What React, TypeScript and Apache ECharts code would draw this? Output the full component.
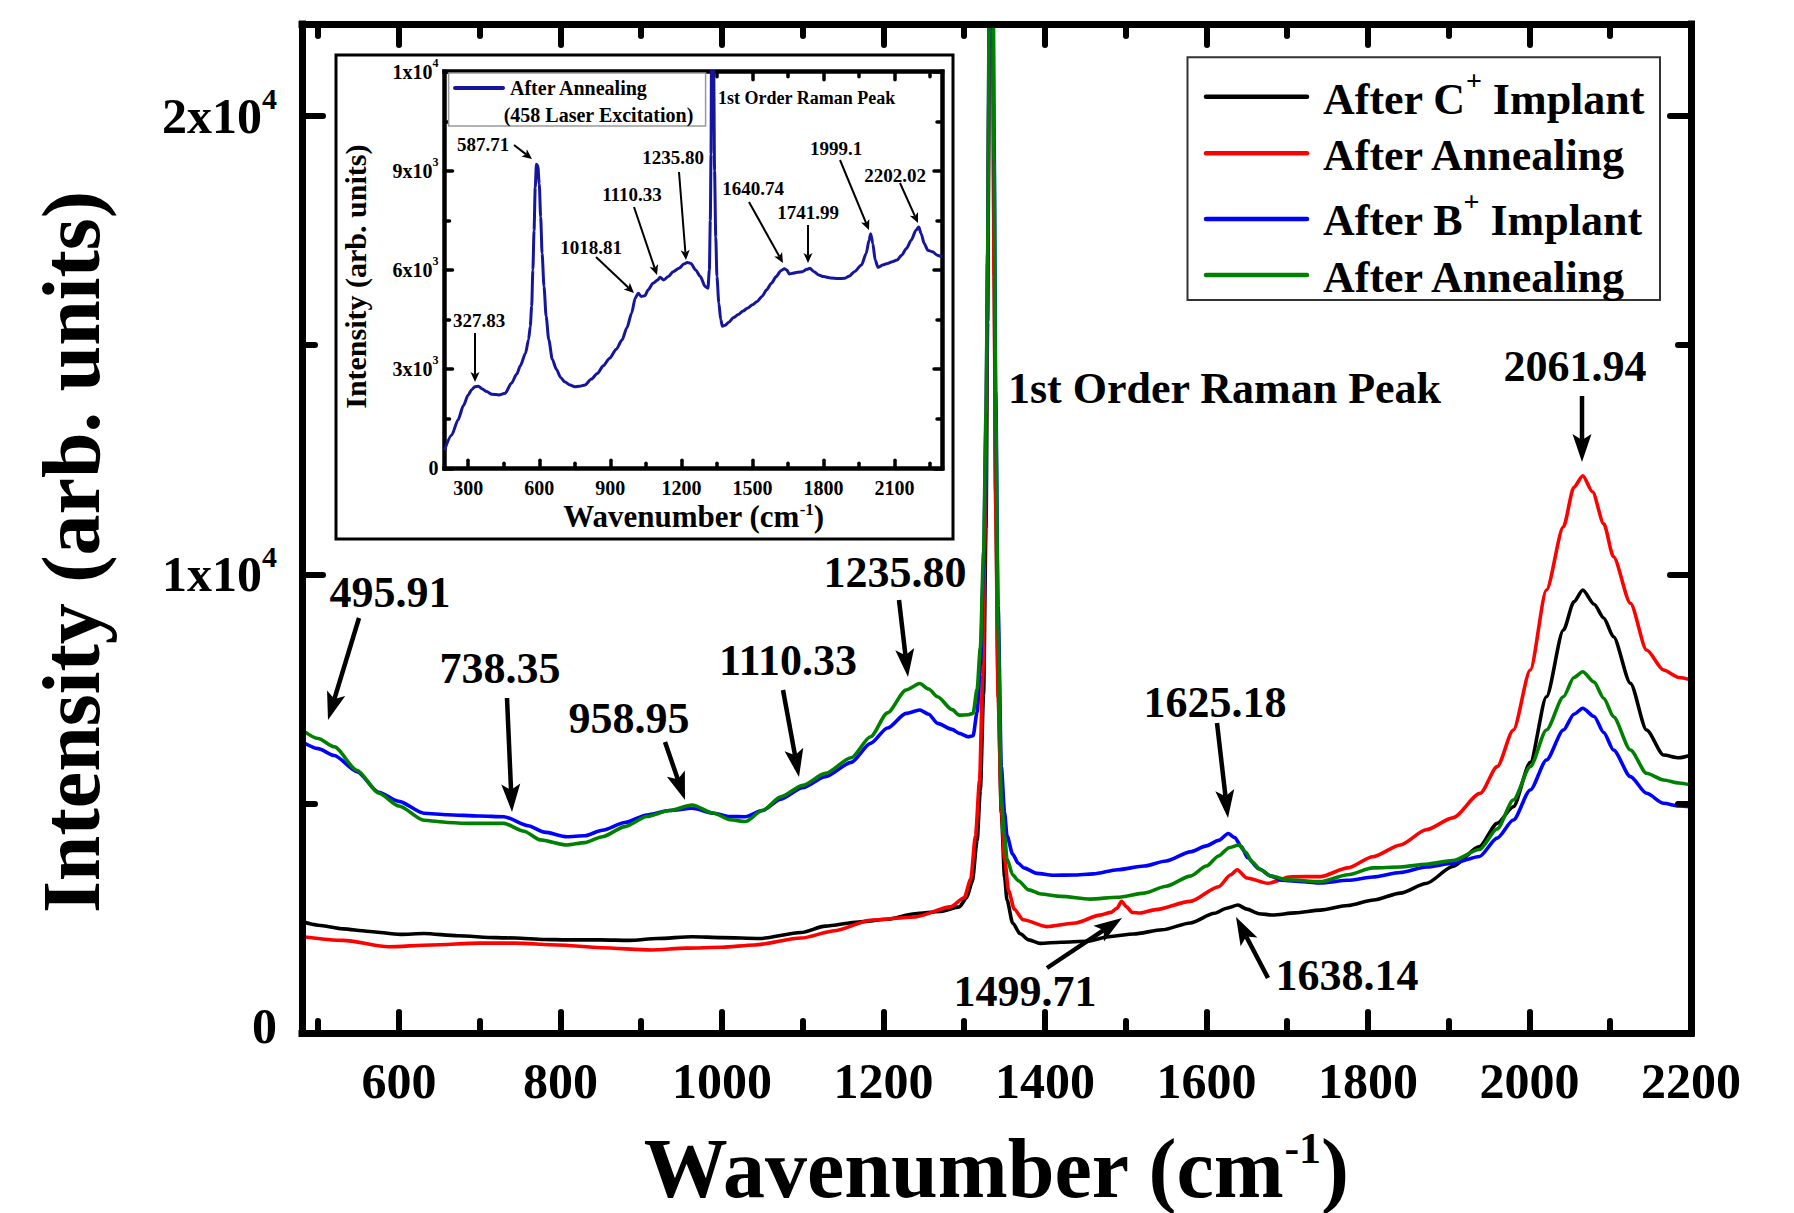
import React, { useEffect, useRef } from 'react';
import * as echarts from 'echarts';

const FONT = "'Liberation Serif', 'Times New Roman', Times, serif";

// ---------- axes / ticks ----------
const mainXRange = [480, 2200];
const mainYRange = [0, 22000];
const mainXMajor = [600, 800, 1000, 1200, 1400, 1600, 1800, 2000, 2200];
const mainXMinor = [500, 700, 900, 1100, 1300, 1500, 1700, 1900, 2100];
const mainYMajor = [0, 10000, 20000];
const mainYMinor = [5000, 15000];
const mainYTickLabels = ['0', '1x10^4', '2x10^4'];

const insetXRange = [200, 2300];
const insetYRange = [0, 12000];
const insetXMajor = [300, 600, 900, 1200, 1500, 1800, 2100];
const insetXMinor = [450, 750, 1050, 1350, 1650, 1950, 2250];
const insetYMajor = [0, 3000, 6000, 9000, 12000];
const insetYMinor = [1500, 4500, 7500, 10500];
const insetYTickLabels = ['0', '3x10^3', '6x10^3', '9x10^3', '1x10^4'];

// ---------- series ----------
const seriesNames = ['After C+ Implant', 'After Annealing', 'After B+ Implant', 'After Annealing'];
const seriesColors = ['#000000', '#ff0000', '#0000ff', '#008000'];

const afterCImplant: number[][] = [
  [480, 2430], [500, 2350], [531, 2270], [560, 2220], [602, 2150], [631, 2170], [673, 2120], [720, 2080],
  [744, 2070], [780, 2040], [808, 2030], [850, 2030], [885, 2020], [920, 2060], [963, 2100], [1000, 2080],
  [1047, 2060], [1098, 2190], [1128, 2330], [1169, 2420], [1205, 2480], [1239, 2600], [1270, 2650],
  [1294, 2750], [1303, 2950], [1310, 3300], [1316, 4200], [1320, 5300], [1324, 7400], [1327, 11000],
  [1329, 15500], [1331, 21500], [1333, 28500], [1335, 24500], [1337, 17000], [1339, 11800], [1342, 7600],
  [1346, 4800], [1350, 3400], [1353, 2900], [1360, 2400], [1369, 2170], [1380, 2030], [1394, 1955],
  [1420, 1980], [1452, 2000], [1479, 2100], [1510, 2160], [1545, 2250], [1580, 2400], [1610, 2610],
  [1625, 2720], [1639, 2790], [1650, 2700], [1665, 2600], [1682, 2573], [1710, 2620], [1741, 2680],
  [1775, 2780], [1807, 2900], [1840, 3050], [1872, 3260], [1905, 3630], [1938, 4063], [1960, 4571],
  [1980, 4934], [2001, 5900], [2021, 7333], [2042, 8787], [2055, 9400], [2066, 9660], [2080, 9350],
  [2092, 9050], [2104, 8640], [2125, 7624], [2145, 6606], [2166, 6061], [2185, 6000], [2200, 6061],
];

const afterCAnnealing: number[][] = [
  [480, 2100], [531, 2020], [587, 1880], [640, 1920], [700, 1960], [744, 1960], [797, 1920], [850, 1860],
  [913, 1810], [956, 1850], [1000, 1870], [1040, 1920], [1098, 2070], [1140, 2230], [1184, 2460],
  [1239, 2530], [1283, 2750], [1300, 2950], [1308, 3350], [1314, 4300], [1319, 5500], [1323, 7800],
  [1326, 11000], [1329, 16000], [1331, 21500], [1333, 28500], [1335, 24000], [1337, 16500], [1339, 11500],
  [1342, 7300], [1346, 4900], [1350, 3800], [1355, 3100], [1362, 2700], [1373, 2470], [1402, 2320],
  [1438, 2400], [1468, 2570], [1482, 2630], [1489, 2720], [1495, 2870], [1501, 2750], [1508, 2630],
  [1518, 2616], [1537, 2690], [1580, 2870], [1615, 3190], [1630, 3450], [1638, 3560], [1650, 3380],
  [1676, 3264], [1704, 3408], [1741, 3410], [1775, 3600], [1806, 3844], [1840, 4100], [1872, 4430],
  [1905, 4690], [1939, 5226], [1960, 5807], [1980, 6606], [2001, 7915], [2021, 9659], [2042, 11039],
  [2055, 11900], [2066, 12150], [2078, 11800], [2092, 11100], [2104, 10385], [2125, 9369], [2145, 8350],
  [2166, 7915], [2185, 7750], [2200, 7697],
];

const afterBImplant: number[][] = [
  [480, 6350], [500, 6200], [520, 6050], [548, 5700], [575, 5250], [600, 5050], [631, 4790], [660, 4760],
  [700, 4730], [730, 4716], [760, 4520], [780, 4380], [808, 4280], [830, 4300], [852, 4420], [880, 4590],
  [907, 4753], [935, 4850], [963, 4900], [990, 4790], [1010, 4720], [1029, 4716], [1050, 4850],
  [1073, 5100], [1100, 5350], [1128, 5588], [1160, 5900], [1184, 6315], [1205, 6650], [1228, 6970],
  [1245, 7042], [1256, 6950], [1267, 6751], [1285, 6620], [1294, 6533], [1305, 6460], [1311, 6480],
  [1316, 7000], [1320, 8000], [1324, 10200], [1327, 13200], [1329, 16800], [1331, 22000], [1333, 28500],
  [1335, 25500], [1337, 19500], [1339, 14000], [1342, 9300], [1346, 5800], [1350, 4800], [1353, 4300],
  [1360, 3900], [1367, 3700], [1374, 3600], [1390, 3480], [1410, 3440], [1435, 3445], [1460, 3470],
  [1490, 3560], [1523, 3640], [1550, 3750], [1580, 3950], [1600, 4080], [1615, 4200], [1627, 4350],
  [1635, 4260], [1643, 4070], [1651, 3820], [1665, 3580], [1680, 3420], [1693, 3330], [1720, 3300],
  [1741, 3270], [1775, 3330], [1806, 3400], [1840, 3500], [1872, 3620], [1905, 3700], [1938, 3850],
  [1960, 4250], [1980, 4644], [2001, 5298], [2021, 5952], [2042, 6606], [2055, 6950], [2066, 7080],
  [2080, 6900], [2092, 6550], [2104, 6170], [2125, 5589], [2145, 5226], [2166, 5008], [2185, 4950],
  [2200, 4934],
];

const afterBAnnealing: number[][] = [
  [480, 6610], [500, 6420], [520, 6240], [548, 5730], [575, 5230], [600, 4950], [631, 4640], [660, 4590],
  [686, 4570], [730, 4570], [755, 4400], [775, 4210], [808, 4100], [830, 4150], [852, 4280], [880, 4500],
  [907, 4720], [935, 4850], [963, 4970], [990, 4790], [1010, 4650], [1029, 4610], [1050, 4850],
  [1073, 5150], [1100, 5400], [1128, 5660], [1160, 6000], [1184, 6460], [1205, 6980], [1228, 7480],
  [1245, 7620], [1256, 7500], [1267, 7330], [1285, 7050], [1294, 6930], [1305, 6940], [1311, 6970],
  [1316, 7500], [1320, 8400], [1324, 10500], [1327, 13500], [1329, 17000], [1331, 22500], [1333, 29000],
  [1335, 25500], [1337, 19000], [1339, 13500], [1342, 8800], [1346, 5100], [1350, 4300], [1353, 3800],
  [1360, 3450], [1367, 3320], [1380, 3120], [1395, 3030], [1420, 2980], [1456, 2920], [1490, 2960],
  [1523, 3050], [1550, 3200], [1580, 3420], [1600, 3640], [1615, 3860], [1628, 4040], [1640, 4100],
  [1648, 3950], [1657, 3720], [1667, 3560], [1680, 3420], [1700, 3340], [1741, 3300], [1775, 3450],
  [1806, 3600], [1840, 3620], [1872, 3680], [1905, 3760], [1938, 4000], [1960, 4450], [1980, 5080],
  [2001, 5807], [2021, 6606], [2042, 7333], [2055, 7750], [2066, 7878], [2080, 7650], [2092, 7300],
  [2104, 6897], [2125, 6170], [2145, 5662], [2166, 5516], [2185, 5450], [2200, 5407],
];

const insetName = 'After Annealing (458 Laser Excitation)';
const insetColor = '#16169c';
const insetAnnealing458: number[][] = [
  [200, 550], [230, 1000], [257, 1460], [280, 1900], [300, 2220], [315, 2380], [328, 2470], [343, 2480],
  [360, 2400], [378, 2320], [400, 2240], [430, 2220], [456, 2270], [482, 2570], [505, 2850], [520, 3100],
  [542, 3480], [555, 3900], [562, 4300], [568, 4900], [573, 6000], [578, 7200], [583, 8500], [588, 9200],
  [594, 9150], [600, 8600], [606, 7600], [612, 6500], [620, 5500], [629, 4600], [640, 3900], [655, 3300],
  [672, 3000], [690, 2750], [707, 2620], [730, 2520], [750, 2470], [770, 2480], [793, 2520], [820, 2700],
  [845, 2870], [870, 3100], [897, 3330], [925, 3600], [949, 3880], [970, 4250], [990, 4700], [1005, 5150],
  [1018, 5300], [1030, 5200], [1045, 5220], [1060, 5400], [1080, 5600], [1100, 5700], [1110, 5780],
  [1125, 5700], [1145, 5800], [1165, 5950], [1190, 6050], [1210, 6180], [1225, 6230], [1240, 6200],
  [1260, 6000], [1280, 5800], [1300, 5500], [1312, 5450], [1318, 6000], [1322, 7500], [1325, 9500],
  [1327, 12500], [1330, 16000], [1333, 15000], [1336, 12500], [1340, 9000], [1345, 7000], [1350, 5800],
  [1358, 5000], [1366, 4500], [1373, 4300], [1385, 4330], [1400, 4420], [1420, 4560], [1440, 4650],
  [1460, 4760], [1480, 4850], [1500, 4950], [1520, 5050], [1540, 5200], [1560, 5400], [1580, 5600],
  [1600, 5800], [1620, 5980], [1635, 6040], [1645, 6000], [1655, 5880], [1670, 5900], [1690, 5930],
  [1710, 5950], [1730, 6020], [1742, 6050], [1760, 5950], [1780, 5850], [1800, 5800], [1830, 5760],
  [1860, 5740], [1890, 5750], [1910, 5820], [1930, 5950], [1960, 6150], [1980, 6500], [1992, 6900],
  [1999, 7100], [2008, 6800], [2018, 6300], [2030, 6080], [2050, 6150], [2070, 6200], [2090, 6250],
  [2110, 6300], [2130, 6450], [2150, 6650], [2170, 6900], [2190, 7200], [2202, 7300], [2212, 7100],
  [2225, 6800], [2240, 6600], [2260, 6550], [2280, 6450], [2300, 6400],
];

// ---------- annotations ----------
const mainPeakLabels = ['495.91', '738.35', '958.95', '1110.33', '1235.80', '2061.94', '1625.18', '1499.71', '1638.14'];
const insetPeakLabels = ['587.71', '327.83', '1018.81', '1110.33', '1235.80', '1640.74', '1741.99', '1999.1', '2202.02'];

const supText = (s: string) => {
  if (s === '0') return '{z|0}';
  const p = s.split('^');
  return p.length === 2 ? `{b|${p[0]}}{s|${p[1]}}` : `{b|${s}}`;
};

function axisDef(gridIndex: number, position: string, range: number[], ticks: number[], tickLen: number,
  lineWidth: number, tickWidth: number, showLine: boolean, label: any) {
  return {
    type: 'value', gridIndex, position, min: range[0], max: range[1],
    axisLine: { show: showLine, onZero: false, lineStyle: { color: '#000', width: lineWidth, cap: 'square' } },
    axisTick: { show: true, inside: true, length: tickLen, customValues: ticks, lineStyle: { color: '#000', width: tickWidth, cap: 'round' } },
    axisLabel: label ? { show: true, customValues: ticks, ...label } : { show: false },
    splitLine: { show: false },
    minorTick: { show: false },
    z: 10,
  };
}

function arrow(x1: number, y1: number, x2: number, y2: number, w: number, headL: number, headW: number, notch: number) {
  const dx = x2 - x1, dy = y2 - y1;
  const len = Math.hypot(dx, dy);
  const ux = dx / len, uy = dy / len;
  const nx = -uy, ny = ux;
  const bx = x2 - ux * headL, by = y2 - uy * headL;
  const mx = x2 - ux * (headL - notch), my = y2 - uy * (headL - notch);
  return [
    { type: 'line', z: 100, shape: { x1, y1, x2: mx, y2: my }, style: { stroke: '#000', lineWidth: w } },
    { type: 'polygon', z: 100, shape: { points: [[x2, y2], [bx + nx * headW, by + ny * headW], [mx, my], [bx - nx * headW, by - ny * headW]] }, style: { fill: '#000' } },
  ];
}

function txt(text: string, x: number, y: number, size: number, align = 'center', extra: any = {}) {
  const { style: extraStyle, ...rest } = extra;
  return {
    type: 'text', z: 101, x, y, ...rest,
    style: {
      text, x: 0, y: 0, fill: '#000', fontSize: size, fontWeight: 'bold', fontFamily: FONT,
      align, textAlign: align, verticalAlign: 'middle', textVerticalAlign: 'middle',
      ...(extraStyle || {}),
    },
  };
}

export default function App() {
  const ref = useRef<HTMLDivElement>(null);
  useEffect(() => {
    const chart = echarts.init(ref.current!, null, { renderer: 'svg' });

    const mainYLabel = {
      margin: 25,
      formatter: (v: number) => supText(mainYTickLabels[mainYMajor.indexOf(v)] ?? String(v)),
      rich: {
        b: { fontSize: 50, fontWeight: 'bold', fontFamily: FONT, color: '#000', lineHeight: 65 },
        z: { fontSize: 50, fontWeight: 'bold', fontFamily: FONT, color: '#000', lineHeight: 50, padding: [0, 0, 14, 0] },
        s: { fontSize: 30, fontWeight: 'bold', fontFamily: FONT, color: '#000', lineHeight: 30, verticalAlign: 'top' },
      },
    };
    const mainXLabel = { margin: 23, fontSize: 50, fontWeight: 'bold', fontFamily: FONT, color: '#000', lineHeight: 50, formatter: (v: number) => String(v) };
    const insetYLabel = {
      margin: 6,
      formatter: (v: number) => supText(insetYTickLabels[insetYMajor.indexOf(v)] ?? String(v)),
      rich: {
        b: { fontSize: 20, fontWeight: 'bold', fontFamily: FONT, color: '#000', lineHeight: 30 },
        z: { fontSize: 20, fontWeight: 'bold', fontFamily: FONT, color: '#000', lineHeight: 20 },
        s: { fontSize: 12, fontWeight: 'bold', fontFamily: FONT, color: '#000', lineHeight: 12, verticalAlign: 'top' },
      },
    };
    const insetXLabel = { margin: 10, fontSize: 20, fontWeight: 'bold', fontFamily: FONT, color: '#000', lineHeight: 20, formatter: (v: number) => String(v) };

    const mainData = [afterCImplant, afterCAnnealing, afterBImplant, afterBAnnealing];

    // annotation geometry (pixel positions of labels and arrows)
    const mainAnn = [
      [390, 592, 359, 618, 328, 720],
      [500, 668, 507, 698, 512, 812],
      [629, 718, 665, 742, 685, 800],
      [788, 660, 783, 690, 799, 777],
      [895, 572, 899, 600, 908, 677],
      [1575, 366, 1582, 396, 1582, 462],
      [1215, 702, 1217, 723, 1228, 818],
      [1025, 991, 1047, 968, 1122, 918],
      [1347, 975, 1268, 978, 1236, 917],
    ];
    const insetAnn = [
      [483, 144, 514, 145, 532, 159],
      [479, 320, 475, 333, 475, 382],
      [591, 247, 596, 257, 634, 293],
      [632, 194, 634, 207, 657, 275],
      [673, 157, 679, 172, 686, 260],
      [753, 188, 749, 202, 783, 263],
      [808, 212, 808, 225, 808, 263],
      [836, 148, 840, 160, 869, 230],
      [895, 175, 900, 183, 918, 223],
    ];

    const graphics: any[] = [];
    // inset outer frame
    graphics.push({ type: 'rect', z: 99, shape: { x: 336, y: 55, width: 617, height: 484 }, style: { fill: 'none', stroke: '#000', lineWidth: 3 } });
    // main annotations
    mainAnn.forEach((a, i) => {
      graphics.push(txt(mainPeakLabels[i], a[0], a[1], 44));
      graphics.push(...arrow(a[2], a[3], a[4], a[5], 4.5, 28, 9.5, 6));
    });
    graphics.push(txt('1st Order Raman Peak', 1008, 388, 44, 'left'));
    // inset annotations
    insetAnn.forEach((a, i) => {
      graphics.push(txt(insetPeakLabels[i], a[0], a[1], 19));
      graphics.push(...arrow(a[2], a[3], a[4], a[5], 2, 10, 4.5, 2.5));
    });
    graphics.push(txt('1st Order Raman Peak', 718, 98, 18, 'left'));
    // inset legend
    graphics.push({ type: 'rect', z: 100, shape: { x: 448.6, y: 73, width: 257, height: 53 }, style: { fill: '#fff', stroke: '#999', lineWidth: 1.5 } });
    graphics.push({ type: 'line', z: 101, shape: { x1: 455, y1: 88, x2: 503, y2: 88 }, style: { stroke: insetColor, lineWidth: 4, lineCap: 'round' } });
    graphics.push(txt('After Annealing', 510, 88, 20, 'left'));
    graphics.push(txt('(458 Laser Excitation)', 503.7, 115, 20, 'left'));
    // main legend
    graphics.push({ type: 'rect', z: 100, shape: { x: 1187.5, y: 57.3, width: 472.5, height: 242.7 }, style: { fill: '#fff', stroke: '#333', lineWidth: 2 } });
    const legendRowsY = [99, 155.5, 220.5, 277];
    const legendLineY = [96.7, 153.3, 219, 275];
    const legendTexts = ['After C{s|+} Implant', 'After Annealing', 'After B{s|+} Implant', 'After Annealing'];
    legendTexts.forEach((t, i) => {
      graphics.push({ type: 'line', z: 101, shape: { x1: 1206, y1: legendLineY[i], x2: 1307, y2: legendLineY[i] }, style: { stroke: seriesColors[i], lineWidth: 4.5, lineCap: 'round' } });
      graphics.push(txt(t, 1323, legendRowsY[i], 44, 'left', {
        style: {
          lineHeight: 66,
          rich: {
            s: { fontSize: 28, fontWeight: 'bold', fontFamily: FONT, fill: '#000', lineHeight: 28, verticalAlign: 'top' },
          },
        },
      }));
    });
    // axis titles
    graphics.push(txt('{b|Wavenumber (cm}{s|-1}{b|)}', 996, 1168, 84, 'center', {
      style: {
        rich: {
          b: { fontSize: 84, fontWeight: 'bold', fontFamily: FONT, fill: '#000', lineHeight: 84 },
          s: { fontSize: 44, fontWeight: 'bold', fontFamily: FONT, fill: '#000', lineHeight: 22, verticalAlign: 'top' },
        },
      },
    }));
    graphics.push(txt('Intensity (arb. units)', 71, 552, 82, 'center', { rotation: Math.PI / 2 }));
    graphics.push(txt('{b|Wavenumber (cm}{s|-1}{b|)}', 693.5, 516, 31, 'center', {
      style: {
        rich: {
          b: { fontSize: 31, fontWeight: 'bold', fontFamily: FONT, fill: '#000', lineHeight: 31 },
          s: { fontSize: 17, fontWeight: 'bold', fontFamily: FONT, fill: '#000', lineHeight: 7, verticalAlign: 'top' },
        },
      },
    }));
    graphics.push(txt('Intensity (arb. units)', 355.6, 276.7, 30, 'center', { rotation: Math.PI / 2 }));

    const option: any = {
      animation: false,
      backgroundColor: '#fff',
      grid: [
        { left: 302, top: 24, width: 1389, height: 1009, containLabel: false },
        { left: 444.5, top: 71.7, width: 497.5, height: 396.6, containLabel: false },
      ],
      xAxis: [
        axisDef(0, 'bottom', mainXRange, mainXMajor, 21, 7, 6, true, mainXLabel),
        axisDef(0, 'bottom', mainXRange, mainXMinor, 12, 7, 6, false, null),
        axisDef(0, 'top', mainXRange, mainXMajor, 21, 7, 6, true, null),
        axisDef(0, 'top', mainXRange, mainXMinor, 12, 7, 6, false, null),
        axisDef(1, 'bottom', insetXRange, insetXMajor, 8, 4.5, 3.5, true, insetXLabel),
        axisDef(1, 'bottom', insetXRange, insetXMinor, 5, 4.5, 3.5, false, null),
        axisDef(1, 'top', insetXRange, insetXMajor, 8, 4.5, 3.5, true, null),
        axisDef(1, 'top', insetXRange, insetXMinor, 5, 4.5, 3.5, false, null),
      ],
      yAxis: [
        axisDef(0, 'left', mainYRange, mainYMajor, 21, 7, 6, true, mainYLabel),
        axisDef(0, 'left', mainYRange, mainYMinor, 13, 7, 6, false, null),
        axisDef(0, 'right', mainYRange, mainYMajor, 21, 7, 6, true, null),
        axisDef(0, 'right', mainYRange, mainYMinor, 13, 7, 6, false, null),
        axisDef(1, 'left', insetYRange, insetYMajor, 8, 4.5, 3.5, true, insetYLabel),
        axisDef(1, 'left', insetYRange, insetYMinor, 5, 4.5, 3.5, false, null),
        axisDef(1, 'right', insetYRange, insetYMajor, 8, 4.5, 3.5, true, null),
        axisDef(1, 'right', insetYRange, insetYMinor, 5, 4.5, 3.5, false, null),
      ],
      series: [
        ...mainData.map((d, i) => ({
          type: 'line', name: seriesNames[i], data: d, xAxisIndex: 0, yAxisIndex: 0,
          showSymbol: false, symbol: 'none', smooth: 0.25, smoothMonotone: 'x', clip: true,
          lineStyle: { color: seriesColors[i], width: 3.6 }, itemStyle: { color: seriesColors[i] }, z: 3 + i,
        })),
        {
          type: 'line', name: insetName, data: insetAnnealing458, xAxisIndex: 4, yAxisIndex: 4,
          showSymbol: false, symbol: 'none', smooth: 0.25, smoothMonotone: 'x', clip: true,
          lineStyle: { color: insetColor, width: 3 }, itemStyle: { color: insetColor }, z: 12,
        },
      ],
      graphic: { elements: graphics },
    };
    chart.setOption(option);
    return () => chart.dispose();
  }, []);
  return <div ref={ref} style={{ position: 'absolute', left: 0, top: 0, width: 1794, height: 1213, background: '#fff' }} />;
}
